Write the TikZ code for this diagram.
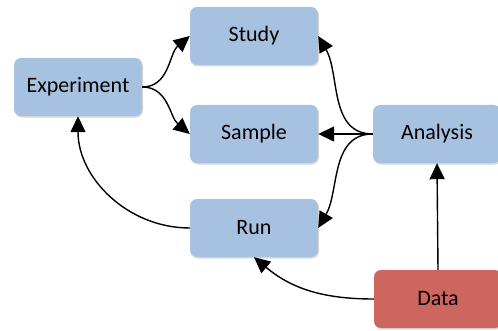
\documentclass[tikz,border=0pt]{standalone}
\usepackage{fontspec}
\setmainfont{Carlito}
\usetikzlibrary{arrows.meta,shadows}
\definecolor{boxblue}{HTML}{A7C2E0}
\definecolor{boxred}{HTML}{CD665F}
\begin{document}
\begin{tikzpicture}[x=1pt,y=1pt,
  box/.style={rectangle, rounded corners=7pt, minimum width=128pt, minimum height=58pt,
    inner sep=0pt, font=\fontsize{22}{26}\selectfont, text=black,
    drop shadow={shadow xshift=1pt, shadow yshift=-1.5pt, opacity=0.25, fill=black!60}},
  bluebox/.style={box, fill=boxblue},
  redbox/.style={box, fill=boxred},
  conn/.style={draw=black, line width=1.4pt, -{Triangle[length=16pt,width=15pt]}}]
\useasboundingbox (0,0) rectangle (498,330);
\node[bluebox] (exp) at (78,243) {Experiment};
\node[bluebox] (study) at (254,294) {Study};
\node[bluebox] (sample) at (254,196) {Sample};
\node[bluebox] (analysis) at (437,196) {Analysis};
\node[bluebox] (run) at (254,102) {Run};
\node[redbox] (data) at (438,31) {Data};
\draw[conn] (exp.east) to[out=0,in=-140] (study.west);
\draw[conn] (exp.east) to[out=0,in=140] (sample.west);
\draw[conn] (analysis.west) to[out=180,in=-60] (study.east);
\draw[conn] (analysis.west) -- (sample.east);
\draw[conn] (analysis.west) to[out=180,in=60] (run.east);
\draw[conn] (run.west) to[out=180,in=-90] (exp.south);
\draw[conn] (data.west) to[out=180,in=-40] (run.south);
\draw[conn] (data.north) -- (analysis.south);
\end{tikzpicture}
\end{document}
